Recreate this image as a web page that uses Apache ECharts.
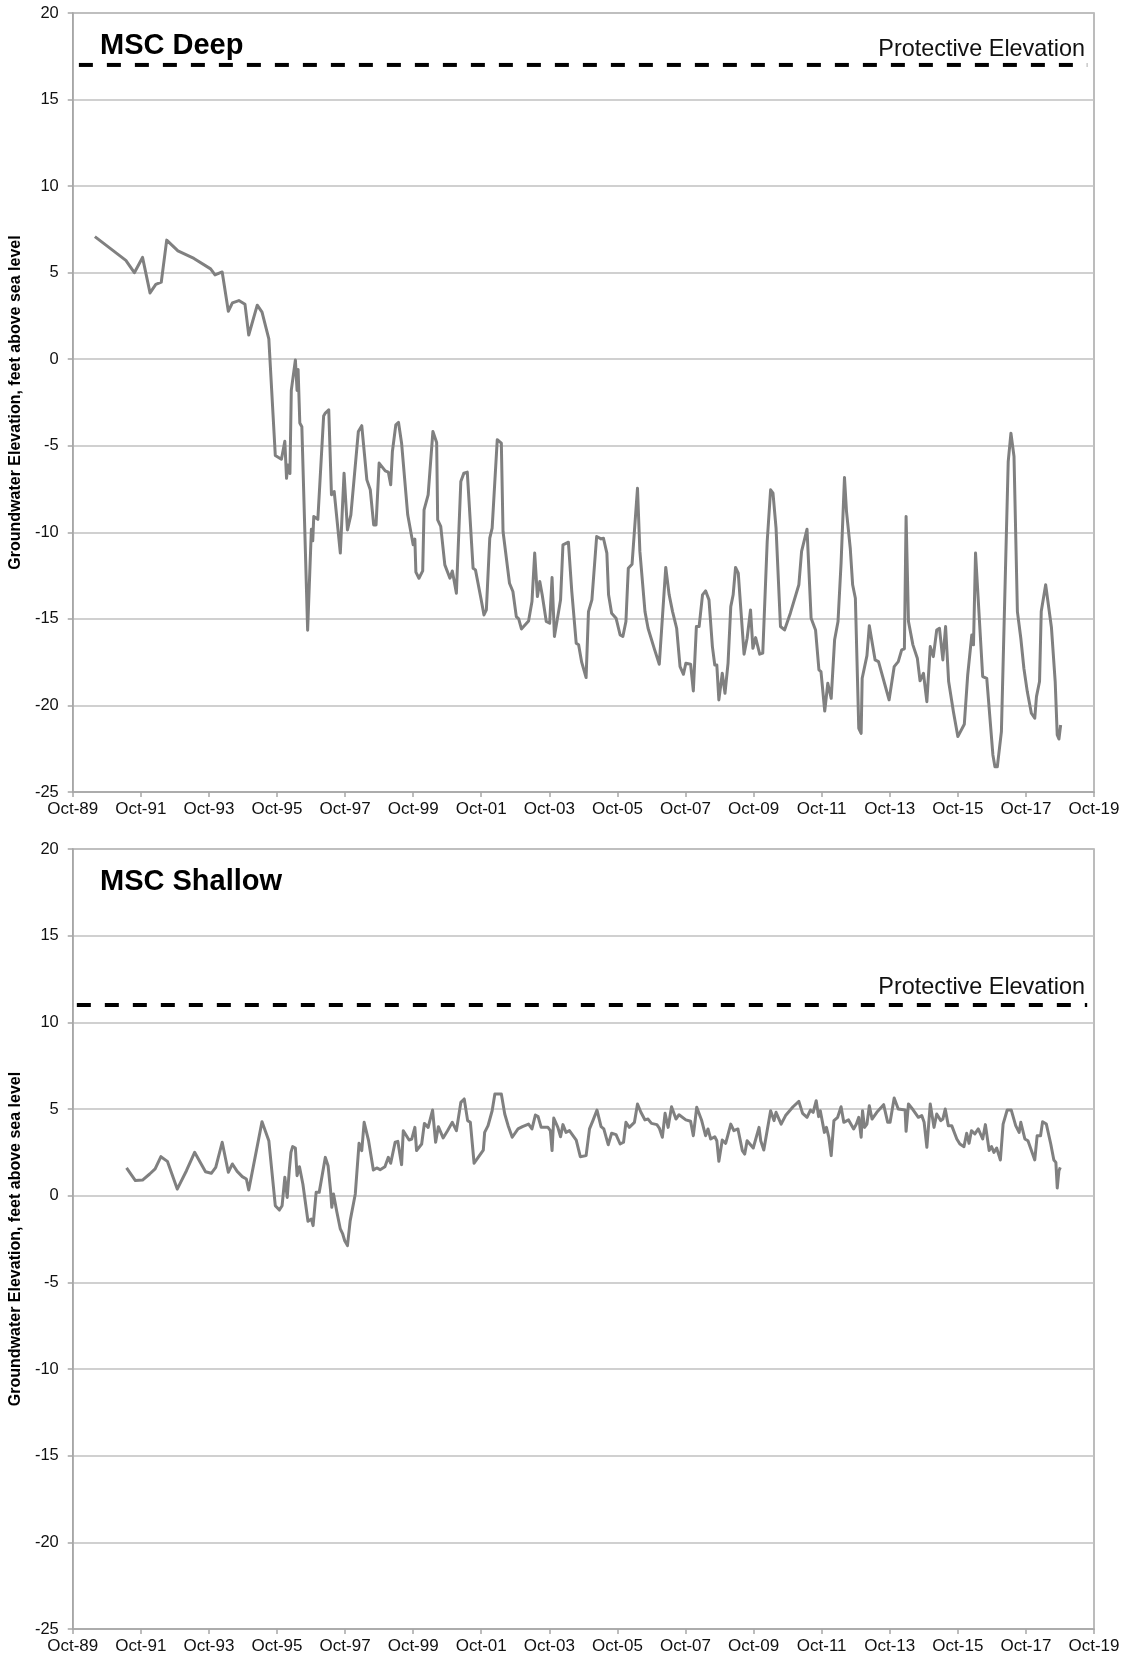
<!DOCTYPE html>
<html><head><meta charset="utf-8">
<script src="https://cdn.jsdelivr.net/npm/echarts@6/dist/echarts.min.js"></script>
<style>html,body{margin:0;padding:0;background:#fff}#chart{width:1125px;height:1659px}</style>
</head><body><div id="chart"></div>
<script>
// x values are years since 1 Oct 1989; y values are feet above sea level
const deepReadings = [
[0.65,7.08],[1.56,5.71],[1.81,5.0],[2.05,5.88],[2.27,3.83],[2.44,4.32],[2.60,4.45],[2.76,6.88],[3.09,6.26],[3.56,5.82],
[4.05,5.22],[4.18,4.87],[4.39,5.04],[4.57,2.77],[4.69,3.25],[4.88,3.39],[5.06,3.17],[5.17,1.40],[5.42,3.12],[5.56,2.72],
[5.76,1.18],[5.95,-5.56],[6.13,-5.78],[6.23,-4.74],[6.28,-6.88],[6.32,-6.11],[6.38,-6.6],[6.42,-1.80],[6.54,-0.04],[6.59,-1.80],
[6.62,-0.59],[6.67,-3.68],[6.73,-3.90],[6.90,-15.65],[7.01,-9.82],[7.05,-10.49],[7.08,-9.09],[7.20,-9.25],[7.37,-3.28],
[7.42,-3.11],[7.52,-2.92],[7.60,-7.83],[7.68,-7.64],[7.86,-11.2],[7.97,-6.58],[8.07,-9.86],[8.17,-8.99],[8.39,-4.17],[8.49,-3.84],
[8.64,-6.97],[8.74,-7.54],[8.84,-9.57],[8.91,-9.57],[9.00,-6.0],[9.18,-6.45],[9.27,-6.52],[9.34,-7.25],[9.39,-5.33],[9.49,-3.79],
[9.57,-3.65],[9.66,-4.85],[9.84,-8.99],[10.0,-10.72],[10.05,-10.39],[10.08,-12.3],[10.17,-12.65],[10.28,-12.23],[10.32,-8.70],[10.44,-7.83],
[10.58,-4.17],[10.69,-4.81],[10.72,-9.28],[10.81,-9.66],[10.93,-11.88],[11.08,-12.65],[11.15,-12.23],[11.19,-12.65],[11.27,-13.52],[11.40,-7.06],
[11.49,-6.58],[11.59,-6.52],[11.76,-12.07],[11.83,-12.17],[11.99,-13.81],[12.08,-14.77],[12.15,-14.48],[12.25,-10.34],[12.32,-9.76],[12.47,-4.65],
[12.59,-4.85],[12.64,-9.95],[12.83,-12.94],[12.93,-13.42],[13.03,-14.87],[13.10,-15.0],[13.18,-15.58],[13.39,-15.12],[13.49,-14.0],[13.57,-11.2],
[13.65,-13.71],[13.72,-12.84],[13.79,-13.61],[13.91,-15.15],[14.01,-15.25],[14.08,-12.61],[14.15,-16.02],[14.33,-13.9],[14.40,-10.72],[14.56,-10.57],
[14.66,-13.42],[14.79,-16.41],[14.86,-16.5],[14.95,-17.5],[15.08,-18.39],[15.15,-14.58],[15.25,-13.9],[15.39,-10.24],[15.52,-10.38],[15.59,-10.34],
[15.69,-11.2],[15.74,-13.61],[15.83,-14.67],[15.96,-14.96],[16.08,-15.93],[16.16,-16.02],[16.25,-15.15],[16.32,-12.07],[16.43,-11.84],[16.59,-7.45],
[16.66,-11.1],[16.81,-14.58],[16.90,-15.54],[17.08,-16.7],[17.23,-17.62],[17.42,-12.03],[17.52,-13.61],[17.62,-14.58],[17.74,-15.54],[17.84,-17.76],
[17.94,-18.2],[18.01,-17.56],[18.15,-17.62],[18.23,-19.16],[18.32,-15.44],[18.40,-15.44],[18.50,-13.61],[18.59,-13.38],[18.69,-13.9],[18.79,-16.6],
[18.86,-17.66],[18.92,-17.66],[18.98,-19.68],[19.08,-18.14],[19.16,-19.3],[19.25,-17.56],[19.33,-14.29],[19.40,-13.61],[19.47,-12.03],[19.55,-12.36],
[19.72,-17.04],[19.81,-16.12],[19.91,-14.48],[19.98,-16.7],[20.06,-16.08],[20.18,-17.04],[20.27,-16.98],[20.40,-10.53],[20.50,-7.54],[20.57,-7.74],
[20.66,-9.76],[20.79,-15.44],[20.91,-15.64],[21.08,-14.67],[21.33,-13.03],[21.41,-11.1],[21.57,-9.82],[21.69,-14.96],[21.82,-15.64],[21.92,-17.95],
[21.98,-18.05],[22.09,-20.32],[22.18,-18.72],[22.28,-19.59],[22.38,-16.21],[22.48,-15.15],[22.57,-11.78],[22.67,-6.83],[22.73,-8.8],[22.84,-10.92],
[22.91,-13.03],[22.99,-13.81],[23.09,-21.32],[23.16,-21.61],[23.19,-18.43],[23.33,-17.12],[23.40,-15.39],[23.57,-17.37],[23.67,-17.47],[23.86,-18.82],
[23.98,-19.68],[24.13,-17.76],[24.25,-17.47],[24.35,-16.79],[24.43,-16.73],[24.48,-9.08],[24.55,-15.15],[24.68,-16.5],[24.81,-17.27],[24.89,-18.58],
[24.99,-18.14],[25.09,-19.78],[25.19,-16.6],[25.28,-17.18],[25.38,-15.64],[25.46,-15.54],[25.56,-17.37],[25.64,-15.44],[25.73,-18.62],[25.87,-20.36],
[26.0,-21.8],[26.19,-21.09],[26.29,-18.24],[26.41,-15.93],[26.46,-16.5],[26.52,-11.2],[26.73,-18.33],[26.85,-18.43],[27.03,-22.86],[27.09,-23.54],
[27.16,-23.54],[27.28,-21.51],[27.43,-9.76],[27.48,-5.91],[27.56,-4.27],[27.65,-5.62],[27.75,-14.58],[27.85,-16.12],[27.94,-17.85],[28.04,-19.2],
[28.16,-20.45],[28.26,-20.74],[28.31,-19.49],[28.40,-18.62],[28.45,-14.58],[28.58,-13.03],[28.75,-15.5],[28.86,-18.62],[28.92,-21.7],[28.97,-21.94],
[29.02,-21.13]
];
const shallowReadings = [
[1.58,1.60],[1.84,0.87],[2.05,0.90],[2.26,1.25],[2.42,1.54],[2.59,2.25],[2.78,1.98],[3.07,0.38],[3.34,1.44],[3.58,2.5],
[3.90,1.38],[4.07,1.29],[4.20,1.63],[4.39,3.08],[4.57,1.35],[4.69,1.83],[4.83,1.40],[4.98,1.10],[5.10,0.96],[5.17,0.33],
[5.56,4.27],[5.76,3.17],[5.95,-0.58],[6.07,-0.83],[6.15,-0.58],[6.23,1.06],[6.30,-0.10],[6.36,1.44],[6.41,2.5],[6.46,2.83],
[6.54,2.75],[6.59,1.15],[6.66,1.67],[6.76,0.67],[6.91,-1.48],[7.01,-1.35],[7.06,-1.73],[7.15,0.19],[7.24,0.19],
[7.42,2.21],[7.50,1.73],[7.57,0.38],[7.61,-0.67],[7.66,0.10],[7.76,-0.96],[7.86,-1.92],[7.93,-2.21],[7.99,-2.60],[8.07,-2.88],
[8.15,-1.44],[8.30,0.10],[8.41,3.02],[8.49,2.6],[8.56,4.23],[8.69,3.17],[8.83,1.48],[8.93,1.60],[9.03,1.50],[9.17,1.67],
[9.27,2.21],[9.34,1.87],[9.47,3.08],[9.55,3.13],[9.66,1.79],[9.71,3.75],[9.88,3.21],[9.96,3.27],[10.05,3.94],[10.10,2.6],
[10.25,2.98],[10.33,4.17],[10.44,3.94],[10.57,4.94],[10.66,3.08],[10.74,3.98],[10.88,3.33],[11.01,3.75],[11.15,4.23],[11.27,3.75],
[11.40,5.38],[11.50,5.58],[11.60,4.33],[11.68,4.23],[11.79,1.87],[11.91,2.21],[12.06,2.63],[12.10,3.65],[12.20,4.04],[12.32,4.90],
[12.40,5.87],[12.59,5.87],[12.69,4.71],[12.79,4.04],[12.91,3.37],[13.08,3.85],[13.21,3.98],[13.39,4.13],[13.49,3.85],[13.59,4.65],
[13.67,4.56],[13.76,3.94],[13.96,3.94],[14.03,3.75],[14.08,2.6],[14.13,4.48],[14.25,3.94],[14.33,3.40],[14.40,4.10],[14.49,3.65],
[14.59,3.75],[14.79,3.21],[14.91,2.25],[15.08,2.31],[15.18,3.85],[15.28,4.33],[15.40,4.94],[15.52,3.98],[15.60,3.85],[15.73,2.94],
[15.83,3.60],[15.96,3.52],[16.08,2.98],[16.18,3.08],[16.25,4.23],[16.35,3.94],[16.50,4.23],[16.59,5.29],[16.69,4.81],[16.81,4.37],
[16.90,4.42],[17.00,4.17],[17.16,4.10],[17.23,3.90],[17.32,3.37],[17.40,4.75],[17.49,3.94],[17.59,5.13],[17.72,4.42],[17.81,4.67],
[18.01,4.37],[18.15,4.29],[18.23,3.46],[18.33,5.10],[18.47,4.37],[18.59,3.46],[18.66,3.85],[18.74,3.27],[18.86,3.40],[18.92,3.17],
[18.98,1.98],[19.08,3.21],[19.18,3.02],[19.33,4.13],[19.42,3.75],[19.54,3.85],[19.67,2.6],[19.74,2.40],[19.81,3.17],[19.99,2.75],
[20.16,3.94],[20.21,3.17],[20.30,2.63],[20.50,4.90],[20.60,4.33],[20.66,4.81],[20.81,4.13],[20.94,4.62],[21.16,5.13],[21.33,5.44],
[21.44,4.75],[21.57,4.52],[21.67,4.94],[21.75,4.81],[21.84,5.48],[21.91,4.56],[21.96,4.90],[22.08,3.65],[22.14,3.94],[22.21,3.37],
[22.28,2.31],[22.36,4.33],[22.47,4.52],[22.57,5.13],[22.65,4.23],[22.79,4.37],[22.94,3.85],[23.02,4.13],[23.09,4.52],[23.16,3.37],
[23.20,4.90],[23.26,3.94],[23.33,4.13],[23.40,5.19],[23.48,4.42],[23.62,4.81],[23.82,5.25],[23.94,4.23],[24.01,4.23],[24.13,5.63],
[24.25,5.0],[24.45,4.94],[24.48,3.71],[24.55,5.29],[24.69,4.94],[24.84,4.52],[24.94,4.62],[25.01,4.23],[25.09,2.79],[25.19,5.29],
[25.30,3.94],[25.38,4.71],[25.50,4.33],[25.56,4.42],[25.63,5.0],[25.72,4.04],[25.82,4.04],[25.97,3.27],[26.06,2.98],[26.18,2.83],
[26.26,3.60],[26.33,3.02],[26.40,3.75],[26.50,3.56],[26.60,3.85],[26.73,3.27],[26.81,4.10],[26.92,2.6],[26.99,2.83],[27.06,2.50],
[27.14,2.75],[27.25,2.06],[27.33,4.13],[27.45,4.94],[27.57,4.94],[27.70,4.04],[27.80,3.65],[27.85,4.23],[27.97,3.27],[28.06,3.17],
[28.26,2.06],[28.33,3.46],[28.43,3.46],[28.49,4.27],[28.60,4.13],[28.73,2.98],[28.82,2.06],[28.88,1.92],[28.92,0.44],[28.97,1.44],
[29.01,1.63]
];
const deepProtective = [[0.18,17],[29.8,17]];
const shallowProtective = [[0.12,11],[29.8,11]];
const panelTitles = ['MSC Deep','MSC Shallow'];
const protectiveLabel = 'Protective Elevation';
const yAxisTitle = 'Groundwater Elevation, feet above sea level';
const xStartYear = 1989; // axis 0 = Oct-89

const FONT = 'Liberation Sans, Arial, sans-serif';
const chart = echarts.init(document.getElementById('chart'), null, {renderer:'canvas'});

function xAxisDef(gi){
  return {
    gridIndex: gi, type:'value', min:0, max:30, interval:2,
    axisLine:{show:true, onZero:false, lineStyle:{color:'#a6a6a6', width:1.5}},
    axisTick:{show:true, length:5, lineStyle:{color:'#a6a6a6', width:1.5}},
    axisLabel:{margin:9, fontFamily:FONT, fontSize:17, color:'#111'},
    splitLine:{show:false}
  };
}
function yAxisDef(gi){
  return {
    gridIndex: gi, type:'value', min:-25, max:20, interval:5,
    name: yAxisTitle, nameLocation:'middle', nameGap:41, nameRotate:90,
    nameTextStyle:{fontFamily:FONT, fontSize:16, fontWeight:'bold', color:'#000'},
    axisLine:{show:true, lineStyle:{color:'#a6a6a6', width:1.5}},
    axisTick:{show:true, length:5, lineStyle:{color:'#a6a6a6', width:1.5}},
    axisLabel:{margin:14, fontFamily:FONT, fontSize:16.5, color:'#111'},
    splitLine:{show:true, lineStyle:{color:'#c0c0c0', width:1.5}}
  };
}
function withXLabels(ax){
  ax.axisLabel.formatter = v => 'Oct-' + String((xStartYear + v) % 100).padStart(2,'0');
  return ax;
}
function lineSeries(gi, data){
  return {type:'line', xAxisIndex:gi, yAxisIndex:gi, data:data, showSymbol:false, symbol:'none',
    lineStyle:{color:'#808080', width:3, join:'round'}, silent:true, animation:false};
}
function dashSeries(gi, data){
  return {type:'line', xAxisIndex:gi, yAxisIndex:gi, data:data, showSymbol:false, symbol:'none',
    lineStyle:{color:'#000', width:4, type:[14,14]}, silent:true, animation:false, z:3};
}
const titleStyle = {fontFamily:FONT, fontSize:29, fontWeight:'bold', color:'#000'};
const labelStyle = {fontFamily:FONT, fontSize:23.4, fontWeight:'normal', color:'#111'};

chart.setOption({
  backgroundColor:'#fff',
  animation:false,
  title:[
    {text:panelTitles[0], left:100, top:31, padding:0, textStyle:titleStyle},
    {text:protectiveLabel, right:40, top:38, padding:0, textStyle:labelStyle},
    {text:panelTitles[1], left:100, top:867, padding:0, textStyle:titleStyle},
    {text:protectiveLabel, right:40, top:976, padding:0, textStyle:labelStyle}
  ],
  grid:[
    {left:70, top:13, width:1024, height:779, show:true, borderColor:'#a6a6a6', borderWidth:1.5, backgroundColor:'transparent'},
    {left:70, top:849, width:1024, height:780, show:true, borderColor:'#a6a6a6', borderWidth:1.5, backgroundColor:'transparent'}
  ],
  xAxis:[withXLabels(xAxisDef(0)), withXLabels(xAxisDef(1))],
  yAxis:[yAxisDef(0), yAxisDef(1)],
  series:[
    lineSeries(0, deepReadings), dashSeries(0, deepProtective),
    lineSeries(1, shallowReadings), dashSeries(1, shallowProtective)
  ]
});
</script></body></html>
